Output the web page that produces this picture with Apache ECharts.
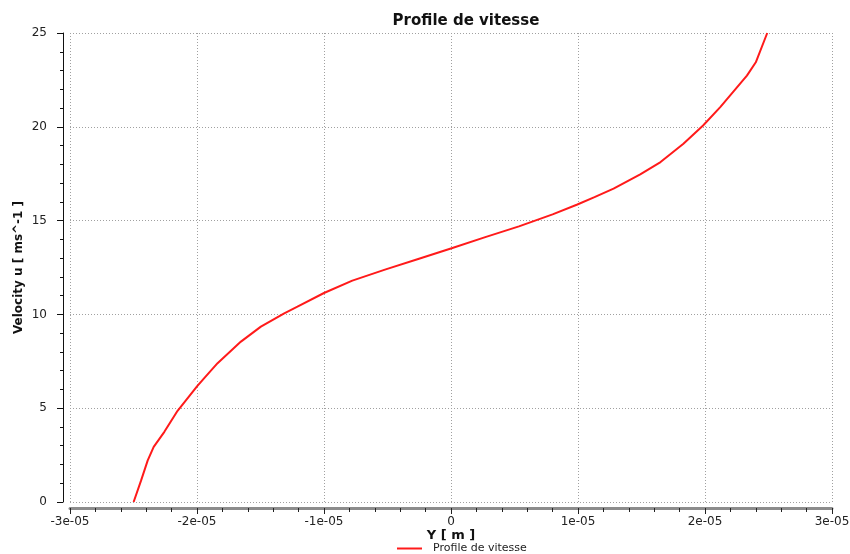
<!DOCTYPE html>
<html>
<head>
<meta charset="utf-8">
<script src="https://cdn.jsdelivr.net/npm/echarts@6/dist/echarts.min.js"></script>
<style>
  html, body { margin: 0; padding: 0; background: #ffffff; }
  #chart { width: 850px; height: 554px; }
</style>
</head>
<body>
<div id="chart"></div>
<script>
// Velocity profile across the channel: position Y [m] and velocity u [m/s]
const positionY = [
  -2.499e-5, -2.44e-5, -2.388e-5, -2.341e-5, -2.257e-5, -2.153e-5, -2.0e-5,
  -1.943e-5, -1.838e-5, -1.654e-5, -1.497e-5, -1.313e-5, -1.209e-5, -1.0e-5,
  -0.777e-5, -0.514e-5, -0.252e-5, 0.005e-5, 0.27e-5, 0.535e-5, 0.8e-5,
  0.995e-5, 1.13e-5, 1.28e-5, 1.49e-5, 1.65e-5, 1.83e-5, 1.985e-5, 2.12e-5,
  2.23e-5, 2.33e-5, 2.40e-5, 2.49e-5
];
const velocityU = [
  0.0, 1.15, 2.22, 2.94, 3.74, 4.86, 6.16,
  6.6, 7.4, 8.55, 9.35, 10.06, 10.41, 11.14,
  11.8, 12.4, 12.97, 13.53, 14.12, 14.69, 15.33,
  15.86, 16.25, 16.7, 17.46, 18.12, 19.1, 20.07, 21.05,
  21.93, 22.73, 23.44, 25.0
];
const xTickLabels = ['-3e-05', '-2e-05', '-1e-05', '0', '1e-05', '2e-05', '3e-05'];
const yTickLabels = ['0', '5', '10', '15', '20', '25'];

const seriesName = 'Profile de vitesse';
const fontFamily = '"DejaVu Sans", Verdana, sans-serif';

const chart = echarts.init(document.getElementById('chart'), null, { renderer: 'canvas' });

const gridDash = { color: '#a0a0a0', type: [1, 2], width: 1 };

chart.setOption({
  animation: false,
  backgroundColor: '#ffffff',
  title: {
    text: 'Profile de vitesse',
    left: 461,
    top: 9,
    textAlign: 'center',
    textStyle: { fontFamily, fontSize: 15, fontWeight: 'bold', color: '#111' }
  },
  legend: {
    bottom: -5,
    left: 392,
    itemWidth: 25,
    itemHeight: 2,
    icon: 'rect',
    itemGap: 6,
    textStyle: { fontFamily, fontSize: 11, color: '#222', padding: [0, 0, 0, 6] },
    data: [seriesName]
  },
  grid: {
    left: 70, right: 18, top: 33, bottom: 52,
    containLabel: false,
    outerBoundsMode: 'none'
  },
  xAxis: {
    type: 'value',
    min: -3e-5,
    max: 3e-5,
    interval: 1e-5,
    offset: 6,
    name: 'Y [ m ]',
    nameLocation: 'middle',
    nameGap: 21,
    nameMoveOverlap: false,
    nameTextStyle: { fontFamily, fontSize: 13, fontWeight: 'bold', color: '#111' },
    axisLine: { show: true, onZero: false, lineStyle: { color: '#8c8c8c', width: 3 } },
    axisTick: { show: true, length: 6, lineStyle: { color: '#222' } },
    minorTick: { show: true, splitNumber: 5, length: 4, lineStyle: { color: '#222' } },
    axisLabel: {
      fontFamily, fontSize: 12, color: '#222', margin: 8,
      formatter: v => xTickLabels[Math.round(v / 1e-5) + 3]
    },
    splitLine: { show: true, lineStyle: gridDash }
  },
  yAxis: {
    type: 'value',
    min: 0,
    max: 25,
    interval: 5,
    offset: 7,
    name: 'Velocity u [ ms^-1 ]',
    nameLocation: 'middle',
    nameGap: 38,
    nameMoveOverlap: false,
    nameTextStyle: { fontFamily, fontSize: 12, fontWeight: 'bold', color: '#111' },
    axisLine: { show: true, onZero: false, lineStyle: { color: '#111', width: 1 } },
    axisTick: { show: true, length: 6, lineStyle: { color: '#111' } },
    minorTick: { show: true, splitNumber: 5, length: 3, lineStyle: { color: '#111' } },
    axisLabel: {
      fontFamily, fontSize: 12, color: '#222', margin: 16,
      formatter: v => yTickLabels[Math.round(v / 5)]
    },
    splitLine: { show: true, lineStyle: gridDash }
  },
  series: [{
    name: seriesName,
    type: 'line',
    data: positionY.map((y, i) => [y, velocityU[i]]),
    showSymbol: false,
    smooth: false,
    clip: true,
    lineStyle: { color: '#ff1a1a', width: 2 },
    itemStyle: { color: '#ff1a1a' }
  }]
});
</script>
</body>
</html>
